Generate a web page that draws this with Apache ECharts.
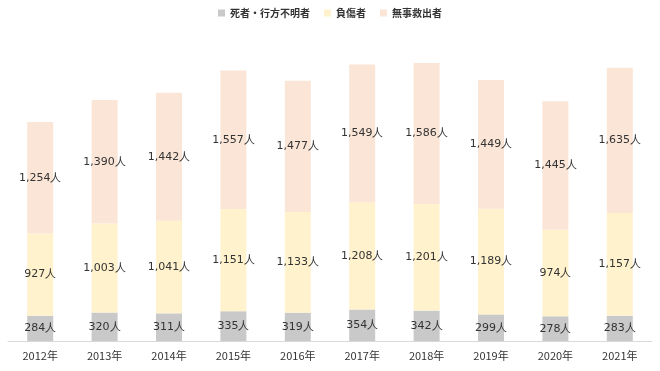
<!DOCTYPE html>
<html><head><meta charset="utf-8">
<script src="https://cdn.jsdelivr.net/npm/echarts@6/dist/echarts.min.js"></script>
<style>html,body{margin:0;padding:0;background:#fff}#c{width:660px;height:371px}</style>
</head><body><div id="c"></div>
<script>
const categories = ['2012年','2013年','2014年','2015年','2016年','2017年','2018年','2019年','2020年','2021年'];
const dead = [284,320,311,335,319,354,342,299,278,283];
const injured = [927,1003,1041,1151,1133,1208,1201,1189,974,1157];
const rescued = [1254,1390,1442,1557,1477,1549,1586,1449,1445,1635];
const seriesNames = ['死者・行方不明者','負傷者','無事救出者'];
const colors = ['#c9c9c9','#fff2cc','#fbe5d6'];

const fmt = p => p.value.toLocaleString('en-US') + '人';
const chart = echarts.init(document.getElementById('c'));
const mk = (name, data, color) => ({
  name, type:'bar', stack:'t', data, barWidth:26,
  itemStyle:{color},
  label:{show:true, position:'inside', formatter:fmt, color:'#333', fontSize:11, fontFamily:'DejaVu Sans'}
});
chart.setOption({
  animation:false,
  textStyle:{fontFamily:'Noto Sans CJK JP'},
  legend:{top:3, left:'center', itemWidth:7, itemHeight:7, itemGap:14, icon:'rect',
    textStyle:{fontSize:10, fontWeight:'bold', color:'#333', fontFamily:'Noto Sans CJK JP'}},
  grid:{left:8, right:8, top:30, bottom:30},
  xAxis:{type:'category', data:categories,
    axisLine:{lineStyle:{color:'#d9d9d9'}}, axisTick:{show:false},
    axisLabel:{color:'#333', fontSize:11, margin:9, fontFamily:'Noto Sans CJK JP'}},
  yAxis:{type:'value', min:0, max:3500, show:false, splitLine:{show:false}},
  series:[mk(seriesNames[0],dead,colors[0]), mk(seriesNames[1],injured,colors[1]), mk(seriesNames[2],rescued,colors[2])]
});
</script></body></html>
